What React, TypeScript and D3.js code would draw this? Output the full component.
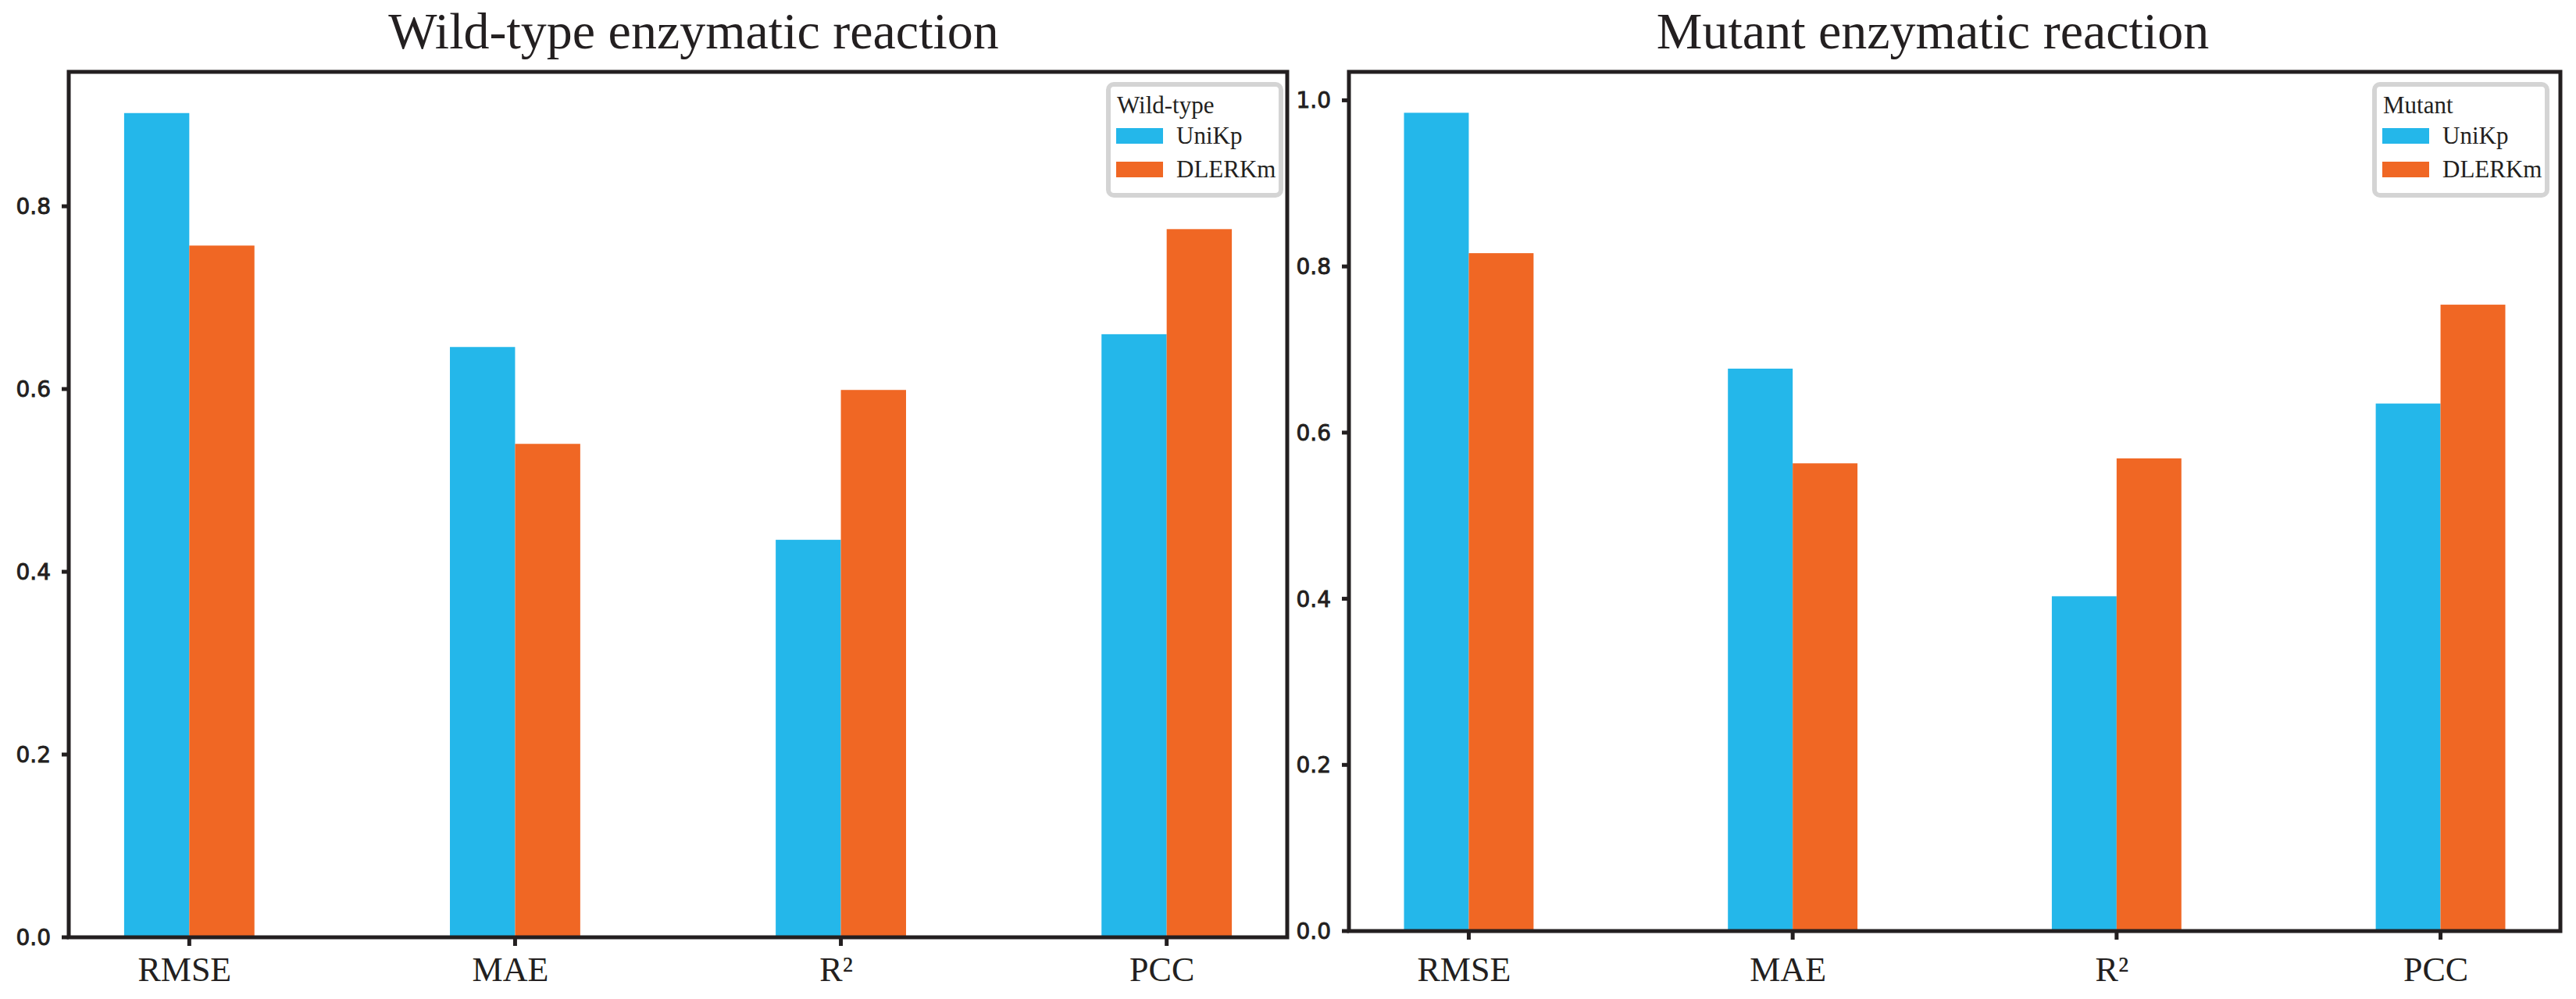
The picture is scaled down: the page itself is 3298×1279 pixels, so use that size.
import * as d3 from "d3";

// metric names along the x axis
const categories = ["RMSE", "MAE", "R²", "PCC"];

// wild-type panel values
const wildUniKp = [0.902, 0.646, 0.435, 0.66];
const wildDLERKm = [0.757, 0.54, 0.599, 0.775];

// mutant panel values
const mutantUniKp = [0.985, 0.677, 0.403, 0.635];
const mutantDLERKm = [0.816, 0.563, 0.569, 0.754];

const yTickValues = [0, 0.2, 0.4, 0.6, 0.8, 1.0];
const seriesNames = ["UniKp", "DLERKm"];

const WIDTH = 3298;
const HEIGHT = 1279;
const INK = "#231f20";
const BLUE = "#24b7ea";
const ORANGE = "#f06724";
const SERIF = "'Liberation Serif', 'Times New Roman', serif";
const SANS = "'DejaVu Sans', sans-serif";

interface PanelProps {
  title: string;
  legendTitle: string;
  uniKp: number[];
  dlerkm: number[];
  left: number;
  right: number;
  top: number;
  bottom: number;
  titleDx: number;
  legendInset: number;
}

function Panel({
  title,
  legendTitle,
  uniKp,
  dlerkm,
  left,
  right,
  top,
  bottom,
  titleDx,
  legendInset,
}: PanelProps) {
  const barW = 0.2;
  const x = d3
    .scaleLinear()
    .domain([-0.37, categories.length - 1 + 0.37])
    .range([left, right]);
  const yMax = (d3.max([...uniKp, ...dlerkm]) || 1) * 1.05;
  const y = d3.scaleLinear().domain([0, yMax]).range([bottom, top]);
  const bw = x(barW) - x(0);

  const series = [
    { values: uniKp, color: BLUE, offset: -barW / 2 },
    { values: dlerkm, color: ORANGE, offset: barW / 2 },
  ];

  // legend box geometry
  const boxW = 221;
  const boxH = 142;
  const boxX = right - legendInset - boxW;
  const boxY = top + 16;

  return (
    <g>
      <text
        x={(left + right) / 2 + titleDx}
        y={62}
        textAnchor="middle"
        fontFamily={SERIF}
        fontSize={66}
        fill={INK}
      >
        {title}
      </text>

      {series.map((s, si) =>
        s.values.map((v, i) => (
          <rect
            key={`${si}-${i}`}
            x={x(i + s.offset) - bw / 2}
            y={y(v)}
            width={bw}
            height={y(0) - y(v)}
            fill={s.color}
          />
        ))
      )}

      {/* y ticks */}
      {yTickValues
        .filter((t) => t <= yMax)
        .map((t) => (
          <g key={t}>
            <line
              x1={left - 9}
              x2={left}
              y1={y(t)}
              y2={y(t)}
              stroke={INK}
              strokeWidth={5}
            />
            <text
              x={left - 23}
              y={y(t) + 10}
              textAnchor="end"
              fontFamily={SANS}
              fontSize={28}
              fill={INK}
              stroke={INK}
              strokeWidth={0.9}
            >
              {d3.format(".1f")(t)}
            </text>
          </g>
        ))}

      {/* x ticks */}
      {categories.map((c, i) => (
        <g key={c}>
          <line
            x1={x(i)}
            x2={x(i)}
            y1={bottom}
            y2={bottom + 11}
            stroke={INK}
            strokeWidth={5}
          />
          <text
            x={x(i) - 6}
            y={1256}
            textAnchor="middle"
            fontFamily={SERIF}
            fontSize={44}
            fill={INK}
          >
            {c}
          </text>
        </g>
      ))}

      {/* frame */}
      <rect
        x={left}
        y={top}
        width={right - left}
        height={bottom - top}
        fill="none"
        stroke={INK}
        strokeWidth={5}
      />

      {/* legend */}
      <rect
        x={boxX}
        y={boxY}
        width={boxW}
        height={boxH}
        rx={7}
        fill="white"
        stroke="#d4d4d4"
        strokeWidth={6}
      />
      <text
        x={boxX + 11}
        y={boxY + 37}
        fontFamily={SERIF}
        fontSize={31}
        fill={INK}
      >
        {legendTitle}
      </text>
      {seriesNames.map((name, i) => (
        <g key={name}>
          <rect
            x={boxX + 10}
            y={boxY + 56 + i * 43}
            width={60}
            height={20}
            fill={series[i].color}
          />
          <text
            x={boxX + 87}
            y={boxY + 76 + i * 43}
            fontFamily={SERIF}
            fontSize={31}
            fill={INK}
          >
            {name}
          </text>
        </g>
      ))}
    </g>
  );
}

export default function App() {
  return (
    <svg
      width={WIDTH}
      height={HEIGHT}
      style={{ position: "absolute", left: 0, top: 0, background: "white" }}
    >
      <Panel
        title="Wild-type enzymatic reaction"
        legendTitle="Wild-type"
        uniKp={wildUniKp}
        dlerkm={wildDLERKm}
        left={88}
        right={1648}
        top={92}
        bottom={1200}
        titleDx={20}
        legendInset={8}
      />
      <Panel
        title="Mutant enzymatic reaction"
        legendTitle="Mutant"
        uniKp={mutantUniKp}
        dlerkm={mutantDLERKm}
        left={1727}
        right={3278}
        top={92}
        bottom={1192}
        titleDx={-28}
        legendInset={17}
      />
    </svg>
  );
}
